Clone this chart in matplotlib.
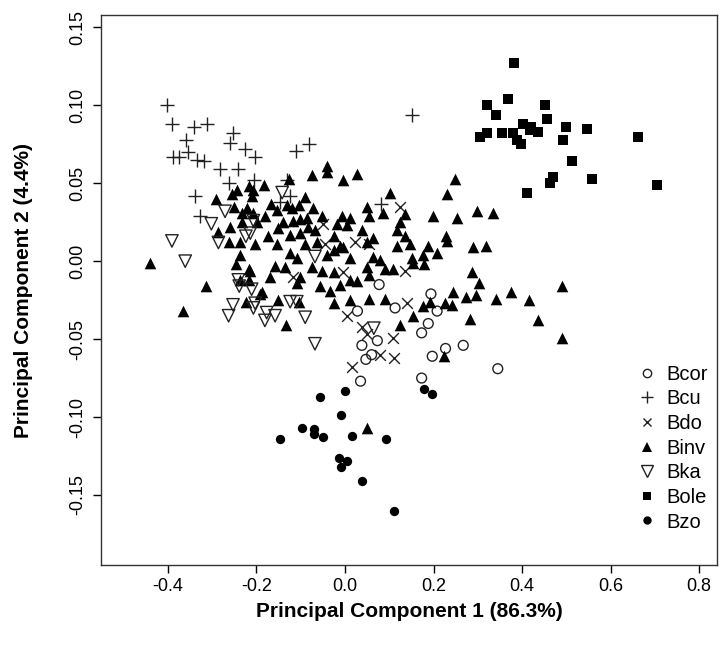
import matplotlib
matplotlib.use("Agg")
import matplotlib.pyplot as plt
from matplotlib.lines import Line2D

plt.rcParams['font.family'] = ['Liberation Sans', 'DejaVu Sans']

# PCA scores (PC1, PC2) per species
bcor_x = [0.077, 0.113, 0.028, 0.073, 0.038, 0.060, 0.047, 0.035, 0.194, 0.208,
          0.188, 0.173, 0.267, 0.227, 0.197, 0.345, 0.173]
bcor_y = [-0.015, -0.030, -0.032, -0.051, -0.054, -0.060, -0.063, -0.077, -0.021, -0.032,
          -0.040, -0.046, -0.054, -0.056, -0.061, -0.069, -0.075]

bcu_x = [-0.401, -0.391, -0.342, -0.311, -0.252, -0.359, -0.260, -0.226, -0.354, -0.388,
         -0.374, -0.335, -0.318, -0.203, -0.282, -0.241, -0.263, -0.205, -0.339, -0.327,
         -0.111, -0.081, -0.132, -0.124, -0.147, 0.081, 0.151]
bcu_y = [0.100, 0.088, 0.086, 0.088, 0.082, 0.078, 0.076, 0.072, 0.070, 0.067,
         0.067, 0.065, 0.064, 0.067, 0.059, 0.059, 0.050, 0.052, 0.042, 0.029,
         0.071, 0.075, 0.052, 0.042, 0.038, 0.037, 0.094]

bdo_x = [0.124, -0.049, -0.045, 0.023, 0.053, -0.004, 0.135, -0.117, 0.004, 0.038,
         0.049, 0.109, 0.079, 0.111, 0.015, 0.139]
bdo_y = [0.035, 0.024, 0.011, 0.012, 0.011, -0.007, -0.006, -0.010, -0.035, -0.042,
         -0.047, -0.049, -0.060, -0.062, -0.068, -0.027]

binv_x = [-0.291, -0.256, -0.244, -0.218, -0.207, -0.211, -0.250, -0.222, -0.207, -0.233,
          -0.233, -0.199, -0.260, -0.286, -0.263, -0.237, -0.203,
          -0.040, -0.040, -0.075, 0.026, -0.005, -0.126, -0.184, 0.102, -0.090,
          -0.168, -0.132, -0.120, -0.154, -0.072, -0.105, 0.049, 0.053, 0.086, 0.135,
          -0.181, -0.086, -0.053, -0.007, 0.011, -0.139, -0.117, -0.102, -0.019, 0.004,
          0.124, -0.151, -0.083, -0.068, 0.038, 0.117, -0.173, -0.124, -0.102, -0.026,
          0.064, 0.135, -0.154, -0.090, -0.064, -0.011, 0.049, 0.117,
          0.248, 0.230, 0.199, 0.252, 0.297, 0.335, 0.147, 0.228, 0.188, 0.290, 0.318,
          -0.440, -0.314, -0.367, -0.237, -0.246, -0.216, -0.237, -0.218, -0.193, -0.223,
          -0.124, -0.109, -0.158, -0.135, -0.169, -0.102, -0.075, -0.053, -0.041, -0.026,
          -0.004, 0.011, -0.026, -0.056, -0.034, -0.011, 0.011, 0.026, 0.049, 0.079,
          0.090, 0.109, 0.064, 0.053, -0.109, -0.105, -0.151, -0.188, -0.214, -0.026,
          0.011, 0.055, 0.090, 0.124, -0.133,
          0.230, 0.151, 0.177, 0.207, 0.154, 0.179, 0.286, 0.303, 0.243, 0.192,
          0.226, 0.241, 0.177, 0.273, 0.296, 0.342, 0.375, 0.416, 0.489, 0.154,
          0.282, 0.436, 0.489, 0.224, 0.050]
binv_y = [0.040, 0.043, 0.046, 0.048, 0.046, 0.042, 0.035, 0.034, 0.031, 0.031,
          0.025, 0.025, 0.022, 0.019, 0.012, 0.012, 0.011,
          0.061, 0.057, 0.055, 0.056, 0.052, 0.053, 0.049, 0.044, 0.041,
          0.037, 0.036, 0.034, 0.033, 0.034, 0.036, 0.035, 0.029, 0.031, 0.030,
          0.029, 0.028, 0.029, 0.029, 0.028, 0.025, 0.026, 0.027, 0.024, 0.023,
          0.025, 0.021, 0.022, 0.020, 0.020, 0.020, 0.016, 0.017, 0.018, 0.016,
          0.015, 0.016, 0.011, 0.011, 0.012, 0.010, 0.012, 0.010,
          0.053, 0.043, 0.029, 0.028, 0.032, 0.031, 0.011, 0.016, 0.010, 0.009, 0.010,
          -0.001, -0.016, -0.032, 0.004, -0.002, -0.005, -0.012, -0.012, -0.021, -0.026,
          0.005, 0.002, -0.003, -0.004, -0.010, -0.010, -0.004, -0.006, 0.004, 0.007,
          0.009, 0.002, -0.007, -0.016, -0.019, -0.015, -0.012, -0.013, -0.004, 0.001,
          -0.005, -0.005, 0.003, -0.009, -0.014, -0.026, -0.025, -0.020, -0.006, -0.027,
          -0.025, -0.024, -0.024, -0.041, -0.041,
          0.013, 0.002, 0.004, 0.005, -0.001, -0.002, -0.007, -0.014, -0.020, -0.026,
          -0.027, -0.028, -0.029, -0.023, -0.022, -0.024, -0.020, -0.025, -0.016, -0.035,
          -0.037, -0.038, -0.049, -0.061, -0.107]

bka_x = [-0.271, -0.302, -0.391, -0.286, -0.224, -0.207, -0.142, -0.214, -0.361, -0.241,
         -0.239, -0.211, -0.253, -0.263, -0.203, -0.207, -0.068, -0.124, -0.109, -0.177,
         -0.158, -0.181, -0.090, -0.068, 0.065]
bka_y = [0.032, 0.024, 0.013, 0.012, 0.016, 0.026, 0.044, 0.018, 0.000, -0.012,
         -0.016, -0.018, -0.028, -0.035, -0.027, -0.030, 0.003, -0.026, -0.026, -0.033,
         -0.035, -0.038, -0.036, -0.053, -0.043]

bole_x = [0.381, 0.320, 0.369, 0.451, 0.340, 0.457, 0.305, 0.320, 0.354, 0.380,
          0.403, 0.421, 0.436, 0.388, 0.397, 0.418, 0.498, 0.492, 0.546, 0.661,
          0.513, 0.469, 0.463, 0.557, 0.705, 0.410]
bole_y = [0.127, 0.100, 0.104, 0.100, 0.094, 0.091, 0.080, 0.082, 0.082, 0.082,
          0.088, 0.086, 0.083, 0.078, 0.075, 0.084, 0.086, 0.078, 0.085, 0.080,
          0.064, 0.054, 0.050, 0.053, 0.049, 0.044]

bzo_x = [-0.147, -0.098, -0.070, -0.070, -0.049, -0.056, 0.000, -0.009, 0.016, 0.092,
         -0.013, 0.004, -0.010, 0.039, 0.111, 0.178, 0.197]
bzo_y = [-0.114, -0.107, -0.108, -0.111, -0.113, -0.087, -0.083, -0.099, -0.112, -0.114,
         -0.126, -0.128, -0.132, -0.141, -0.160, -0.082, -0.085]

x_ticks = [-0.4, -0.2, 0.0, 0.2, 0.4, 0.6, 0.8]
y_ticks = [-0.15, -0.10, -0.05, 0.00, 0.05, 0.10, 0.15]

fig = plt.figure(figsize=(7.22, 6.51), dpi=100)
ax = fig.add_axes([0.140, 0.132, 0.853, 0.845])

dark = '#222222'
ax.scatter(bcor_x, bcor_y, marker='o', s=50, facecolors='none', edgecolors=dark, linewidths=1)
ax.scatter(bcu_x, bcu_y, marker='+', s=110, c=dark, linewidths=1)
ax.scatter(bdo_x, bdo_y, marker='x', s=60, c=dark, linewidths=1)
ax.scatter(binv_x, binv_y, marker='^', s=70, c='black', linewidths=0)
ax.scatter(bka_x, bka_y, marker='v', s=80, facecolors='none', edgecolors=dark, linewidths=1)
ax.scatter(bole_x, bole_y, marker='s', s=60, c='black', linewidths=0)
ax.scatter(bzo_x, bzo_y, marker='o', s=45, c='black', linewidths=0)

ax.set_xlim(-0.551, 0.840)
ax.set_ylim(-0.195, 0.158)
ax.set_xticks(x_ticks)
ax.set_xticklabels(['-0.4', '-0.2', '0.0', '0.2', '0.4', '0.6', '0.8'])
ax.set_yticks(y_ticks)
ax.set_yticklabels(['-0.15', '-0.10', '-0.05', '0.00', '0.05', '0.10', '0.15'],
                   rotation=90, va='center')
ax.tick_params(direction='out', length=6, width=1, labelsize=13)
ax.tick_params(axis='x', pad=3)
ax.tick_params(axis='y', pad=5)
for sp in ax.spines.values():
    sp.set_linewidth(1)
    sp.set_color('#333333')

ax.set_xlabel('Principal Component 1 (86.3%)', fontsize=15, fontweight='bold', labelpad=5)
ax.set_ylabel('Principal Component 2 (4.4%)', fontsize=15, fontweight='bold', labelpad=26)

handles = [
    Line2D([], [], ls='none', marker='o', ms=6, mfc='none', mec=dark, mew=1),
    Line2D([], [], ls='none', marker='+', ms=9, mec=dark, mew=1),
    Line2D([], [], ls='none', marker='x', ms=6, mec=dark, mew=1),
    Line2D([], [], ls='none', marker='^', ms=7, mfc='black', mec='black', mew=0),
    Line2D([], [], ls='none', marker='v', ms=8, mfc='none', mec=dark, mew=1),
    Line2D([], [], ls='none', marker='s', ms=6, mfc='black', mec='black', mew=0),
    Line2D([], [], ls='none', marker='o', ms=6, mfc='black', mec='black', mew=0),
]
labels = ['Bcor', 'Bcu', 'Bdo', 'Binv', 'Bka', 'Bole', 'Bzo']
ax.legend(handles, labels, loc='lower right', bbox_to_anchor=(0.995, 0.05),
          frameon=False, fontsize=14.5, handlelength=1.0, handletextpad=0.45,
          labelspacing=0.28, borderaxespad=0, borderpad=0.3)

fig.savefig('out.png', dpi=100)
